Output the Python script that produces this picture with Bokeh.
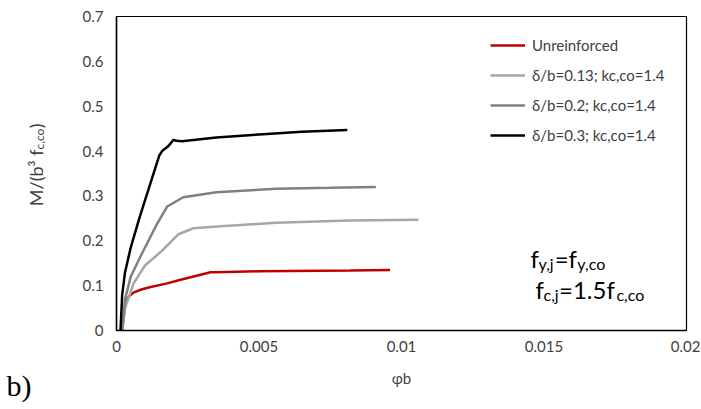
from bokeh.plotting import figure
from bokeh.models import Range1d, FixedTicker, Label, Legend, LegendItem
from bokeh.layouts import row
from bokeh.core.properties import value
from bokeh.embed import file_html
from bokeh.resources import INLINE
import math

# ---- data ----
x_ticks = [0, 0.005, 0.01, 0.015, 0.02]
x_tick_labels = ["0", "0.005", "0.01", "0.015", "0.02"]
y_ticks = [0, 0.1, 0.2, 0.3, 0.4, 0.5, 0.6, 0.7]
y_tick_labels = ["0", "0.1", "0.2", "0.3", "0.4", "0.5", "0.6", "0.7"]

series_names = ["Unreinforced", "δ/b=0.13; kc,co=1.4", "δ/b=0.2; kc,co=1.4", "δ/b=0.3; kc,co=1.4"]

unr_x = [0.0002, 0.00025, 0.00032, 0.00045, 0.00061, 0.0009, 0.0012, 0.00178, 0.00225, 0.0033, 0.0035, 0.005, 0.0082, 0.0096]
unr_y = [0.0, 0.03, 0.063, 0.077, 0.085, 0.092, 0.097, 0.105, 0.113, 0.130, 0.130, 0.132, 0.134, 0.135]

d13_x = [0.0002, 0.0003, 0.0006, 0.001, 0.0016, 0.00216, 0.00269, 0.00353, 0.0056, 0.0082, 0.0106]
d13_y = [0.0, 0.05, 0.105, 0.145, 0.178, 0.214, 0.228, 0.232, 0.240, 0.245, 0.247]

d20_x = [0.0002, 0.0003, 0.0005, 0.0008, 0.001, 0.0014, 0.00178, 0.00234, 0.0035, 0.0056, 0.0075, 0.0091]
d20_y = [0.0, 0.07, 0.12, 0.16, 0.185, 0.235, 0.2765, 0.297, 0.308, 0.316, 0.318, 0.320]

d30_x = [0.00014, 0.0002, 0.0003, 0.0005, 0.0008, 0.0011, 0.0015, 0.0016, 0.0018, 0.0020, 0.0021, 0.0023, 0.0035, 0.005, 0.0065, 0.0081]
d30_y = [0.0, 0.08, 0.13, 0.185, 0.25, 0.31, 0.39, 0.40, 0.41, 0.425, 0.423, 0.422, 0.43, 0.437, 0.443, 0.447]

colors = ["#C00000", "#A6A6A6", "#808080", "#000000"]

x_title = "φb"
panel_letter = "b)"

FONT = "Lato"
TXT = "#404040"

# ---- layout geometry (pixels) ----
LEFT_W = 70          # side strip holding the y-axis title and panel letter
MAIN_W = 630
H = 406
FRAME_L, FRAME_T, FRAME_W, FRAME_H = 46, 16, 570, 314

p = figure(width=MAIN_W, height=H, output_backend="svg", toolbar_location=None,
           x_range=Range1d(0, 0.02), y_range=Range1d(0, 0.7),
           min_border_left=FRAME_L, min_border_right=MAIN_W - FRAME_L - FRAME_W,
           min_border_top=FRAME_T, min_border_bottom=H - FRAME_T - FRAME_H)
p.frame_align = False

p.xgrid.visible = False
p.ygrid.visible = False
p.outline_line_color = "black"
p.outline_line_width = 1.2

for ax in (p.xaxis, p.yaxis):
    ax.axis_line_color = "black"
    ax.axis_line_width = 1.5
    ax.major_tick_line_color = None
    ax.minor_tick_line_color = None
    ax.major_tick_out = 0
    ax.major_tick_in = 0
    ax.major_label_text_font = FONT
    ax.major_label_text_font_size = "15px"
    ax.major_label_text_color = TXT

p.xaxis.ticker = FixedTicker(ticks=x_ticks)
p.xaxis.major_label_overrides = dict(zip(x_ticks, x_tick_labels))
p.xaxis.major_label_standoff = 10
p.xaxis.axis_label = x_title
p.xaxis.axis_label_text_font = FONT
p.xaxis.axis_label_text_font_size = "15px"
p.xaxis.axis_label_text_font_style = "normal"
p.xaxis.axis_label_text_color = TXT
p.xaxis.axis_label_standoff = 14
p.yaxis.ticker = FixedTicker(ticks=y_ticks)
p.yaxis.major_label_overrides = dict(zip(y_ticks, y_tick_labels))
p.yaxis.major_label_standoff = 13

renderers = []
for xs, ys, c in [(unr_x, unr_y, colors[0]), (d13_x, d13_y, colors[1]),
                  (d20_x, d20_y, colors[2]), (d30_x, d30_y, colors[3])]:
    r = p.line(xs, ys, line_color=c, line_width=2.5)
    renderers.append(r)

legend = Legend(items=[LegendItem(label=n, renderers=[r]) for n, r in zip(series_names, renderers)],
                location=(374, 185), padding=0, margin=0, spacing=10,
                glyph_width=35, glyph_height=20, label_height=20, label_standoff=7,
                background_fill_alpha=0, border_line_alpha=0,
                label_text_font=FONT, label_text_font_size="15px", label_text_color=TXT)
p.add_layout(legend)

# page pixel -> data coords inside the main frame (annotations only)
def gx(px):
    return (px - (LEFT_W + FRAME_L)) / FRAME_W * 0.02

def gy(py):
    return (FRAME_T + FRAME_H - py) / FRAME_H * 0.7

# approximate Lato advance widths (em)
CW = {"f": 0.32, "y": 0.50, "j": 0.24, "c": 0.46, "o": 0.55, ",": 0.22, "=": 0.58,
      "1": 0.58, ".": 0.22, "5": 0.58, ")": 0.31, "(": 0.31, "M": 0.86, "/": 0.36,
      "b": 0.57, "³": 0.36, " ": 0.26}

def width(s, size):
    return sum(CW.get(ch, 0.55) for ch in s) * size * 1.05

def rich(pieces, px, py):
    x = px
    for t, size, dy in pieces:
        p.add_layout(Label(x=gx(x), y=gy(py + dy), text=t, text_font=FONT,
                           text_font_size=f"{size}px", text_color="black",
                           text_baseline="alphabetic", text_align="left"))
        x += width(t, size)

BIG, SUB = 24, 16
rich([("f", BIG, 0), ("y,j", SUB, 5), ("=f", BIG, 0), ("y,co", SUB, 5)], 530, 258)
rich([("f", BIG, 0), ("c,j", SUB, 5), ("=1.5f", BIG, 0), ("c,co", SUB, 5)], 535, 289)

# ---- left strip: rotated y-axis title and panel letter ----
fl = figure(width=LEFT_W, height=H, output_backend="svg", toolbar_location=None, title=None,
            x_range=Range1d(0, LEFT_W), y_range=Range1d(0, H),
            x_axis_type=None, y_axis_type=None,
            min_border=0, min_border_left=0, min_border_right=0,
            min_border_top=0, min_border_bottom=0)
fl.frame_align = False
fl.outline_line_color = None

YS_MAIN, YS_SUB = 18, 12
ylab_main = "M/(b³ f"
ylab_sub = "c,co"
ylab_close = ")"
anchor = H - 149          # where the subscript starts (strip coords, y up)
base_x = 35
fl.text(x=[base_x], y=[anchor], text=[ylab_main], angle=math.pi / 2,
        text_font=value(FONT), text_font_size=f"{YS_MAIN}px", text_color=TXT,
        text_align="right", text_baseline="alphabetic")
fl.text(x=[base_x + 4], y=[anchor], text=[ylab_sub], angle=math.pi / 2,
        text_font=value(FONT), text_font_size=f"{YS_SUB}px", text_color=TXT,
        text_align="left", text_baseline="alphabetic")
fl.text(x=[base_x], y=[anchor + width(ylab_sub, YS_SUB)], text=[ylab_close], angle=math.pi / 2,
        text_font=value(FONT), text_font_size=f"{YS_MAIN}px", text_color=TXT,
        text_align="left", text_baseline="alphabetic")

fl.text(x=[6], y=[21], text=[panel_letter],
        text_font=value("Liberation Serif"), text_font_size="30px", text_color="black",
        text_align="left", text_baseline="alphabetic")

layout = row(fl, p, spacing=0)

open("out.html", "w").write(file_html(layout, INLINE))
